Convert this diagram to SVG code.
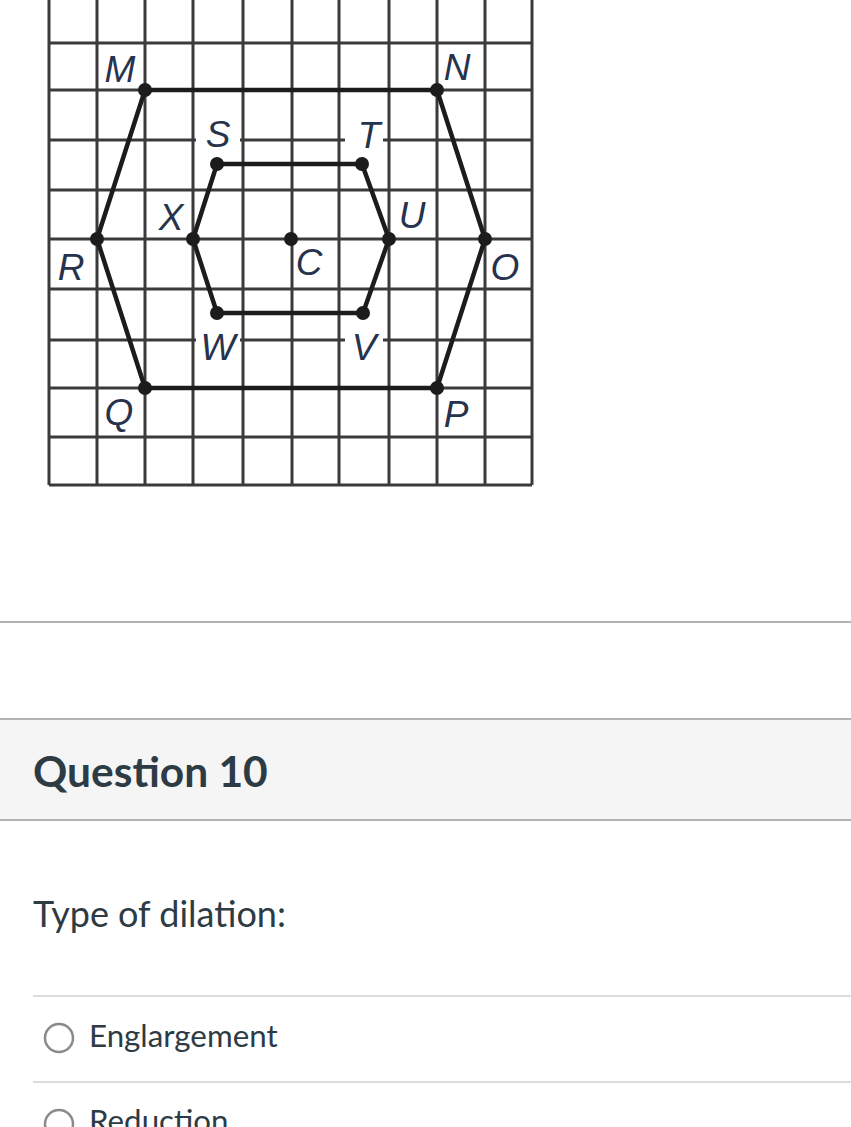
<svg xmlns="http://www.w3.org/2000/svg" width="851" height="1127" viewBox="0 0 851 1127">
<style>
.g{stroke:#3a3a3a;stroke-width:3;fill:none}
.e{stroke:#1c1c1c;stroke-width:4.5;stroke-linecap:round;fill:none}
.d{fill:#1c1c1c}
.lb{font-family:"Liberation Sans",Arial,sans-serif;font-style:italic;font-size:37px;fill:#27334d;text-anchor:middle}
.t{font-family:Lato,"Open Sans",sans-serif;fill:#2d3b45}
.sep{stroke:#b3b3b3;stroke-width:2}
.sep2{stroke:#dcdcdc;stroke-width:2}
.rad{fill:#fff;stroke:#8a8a8a;stroke-width:2.5}
</style>
<rect width="851" height="1127" fill="#fff"/>
<g id="grid">
<path class="g" d="M49 0V485M97 0V485M145 0V485M193 0V485M243 0V485M292 0V485M339 0V485M389 0V485M437 0V485M485 0V485M532 0V485"/>
<path class="g" d="M49 43H532M49 90H532M49 140H532M49 190H532M49 239H532M49 289H532M49 340H532M49 388H532M49 437H532M49 485H532"/>
<rect x="196" y="132" width="44" height="16" fill="#fff"/>
<rect x="345" y="132" width="38" height="16" fill="#fff"/>
<rect x="196" y="332" width="44" height="16" fill="#fff"/>
<rect x="345" y="332" width="38" height="16" fill="#fff"/>
</g>
<g id="connectors">
<polygon class="e" points="145,90 437,90 485,239 437,388 145,388 97,239"/>
<polygon class="e" points="217,164 362,164 389,239 363,313 217,313 193,239"/>
</g>
<g id="node-M"><circle class="d" cx="145" cy="90" r="7"/><text class="lb" x="120" y="82">M</text></g>
<g id="node-N"><circle class="d" cx="437" cy="90" r="7"/><text class="lb" x="457" y="80">N</text></g>
<g id="node-O"><circle class="d" cx="485" cy="239" r="7"/><text class="lb" x="505" y="280">O</text></g>
<g id="node-P"><circle class="d" cx="437" cy="388" r="7"/><text class="lb" x="456" y="427">P</text></g>
<g id="node-Q"><circle class="d" cx="145" cy="388" r="7"/><text class="lb" x="119" y="425">Q</text></g>
<g id="node-R"><circle class="d" cx="97" cy="239" r="7"/><text class="lb" x="71" y="280">R</text></g>
<g id="node-S"><circle class="d" cx="217" cy="164" r="7"/><text class="lb" x="218" y="147">S</text></g>
<g id="node-T"><circle class="d" cx="362" cy="164" r="7"/><text class="lb" x="369" y="148">T</text></g>
<g id="node-U"><circle class="d" cx="389" cy="239" r="7"/><text class="lb" x="412" y="228">U</text></g>
<g id="node-V"><circle class="d" cx="363" cy="313" r="7"/><text class="lb" x="364" y="360">V</text></g>
<g id="node-W"><circle class="d" cx="217" cy="313" r="7"/><text class="lb" x="218" y="360">W</text></g>
<g id="node-X"><circle class="d" cx="193" cy="239" r="7"/><text class="lb" x="171" y="230">X</text></g>
<g id="node-C"><circle class="d" cx="291" cy="239" r="7"/><text class="lb" x="309" y="275">C</text></g>
<g id="question">
<line class="sep" x1="0" y1="622" x2="851" y2="622"/>
<rect x="0" y="719" width="851" height="101" fill="#f5f5f5"/>
<line class="sep" x1="0" y1="719" x2="851" y2="719"/>
<line class="sep" x1="0" y1="820" x2="851" y2="820"/>
<text class="t" x="33" y="787" font-size="42.5" font-weight="bold">Question 10</text>
<text class="t" x="33" y="927" font-size="36">Type of dilation:</text>
<line class="sep2" x1="33" y1="996" x2="851" y2="996"/>
<circle class="rad" cx="59" cy="1038" r="14"/>
<text class="t" x="89" y="1047" font-size="31.3">Englargement</text>
<line class="sep2" x1="33" y1="1082" x2="851" y2="1082"/>
<circle class="rad" cx="59" cy="1124" r="14"/>
<text class="t" x="89" y="1132" font-size="31.3">Reduction</text>
</g>
</svg>
